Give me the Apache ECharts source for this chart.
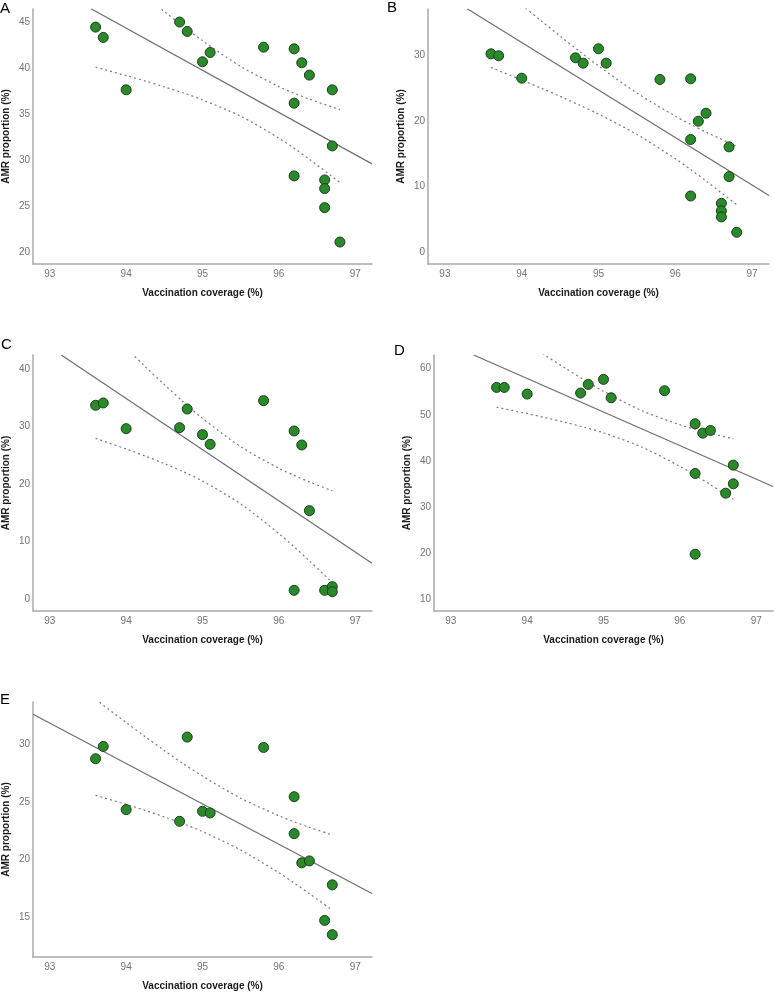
<!DOCTYPE html>
<html><head><meta charset="utf-8">
<script src="https://cdn.jsdelivr.net/npm/echarts@6/dist/echarts.min.js"></script>
<style>html,body{margin:0;padding:0;background:#fff}#c{width:774px;height:992px}</style>
</head><body><div id="c"></div>
<script>
// ---------- data ----------
const xTicks = [93, 94, 95, 96, 97];
const xAll = [93.6, 93.7, 94.0, 94.7, 94.8, 95.0, 95.1, 95.8, 96.2, 96.2, 96.2, 96.3, 96.4, 96.6, 96.6, 96.6, 96.7, 96.7, 96.8];

// Panel A
const xA = xAll;
const yA = [44.49, 43.37, 37.67, 45.04, 44.02, 40.72, 41.73, 42.31, 42.13, 36.22, 28.31, 40.61, 39.27, 27.87, 26.93, 24.86, 37.67, 31.57, 21.12];
const ticksA = [20, 25, 30, 35, 40, 45];
const fitA = [[93.54, 46.49], [97.22, 29.62]];
const ciXA = [93.6, 94.0, 94.25, 94.5, 94.75, 95.0, 95.5, 96.0, 96.2, 96.4, 96.8];
const loA = [40.14, 39.22, 38.63, 37.99, 37.33, 36.58, 34.80, 32.42, 31.32, 30.12, 27.6];
const hiA = [52.3, 49.54, 47.85, 46.19, 44.57, 43.02, 40.22, 38.02, 37.30, 36.66, 35.52];

// Panel B
const xB = xAll;
const yB = [30.25, 29.95, 26.54, 29.64, 28.83, 31.02, 28.83, 26.34, 26.44, 17.19, 8.59, 19.98, 21.20, 7.47, 6.31, 5.39, 16.07, 11.54, 3.05];
const ticksB = [0, 10, 20, 30];
const fitB = [[93.29, 37.12], [97.22, 8.66]];
const ciXB = [93.6, 94.0, 94.25, 94.5, 94.75, 95.0, 95.5, 96.0, 96.2, 96.4, 96.8];
const loB = [28.17, 26.26, 25.03, 23.77, 22.45, 21.07, 17.96, 14.26, 12.61, 10.88, 7.26];
const hiB = [41.59, 37.70, 35.31, 32.95, 30.65, 28.41, 24.28, 20.74, 19.49, 18.32, 16.16];

// Panel C
const xC = [93.6, 93.7, 94.0, 94.7, 94.8, 95.0, 95.1, 95.8, 96.2, 96.3, 96.4, 96.2, 96.6, 96.7, 96.7];
const yC = [33.69, 34.10, 29.64, 29.81, 33.05, 28.60, 26.92, 34.50, 29.23, 26.80, 15.40, 1.56, 1.56, 2.2, 1.33];
const ticksC = [0, 10, 20, 30, 40];
const fitC = [[93.15, 42.43], [97.22, 6.25]];
const ciXC = [93.6, 94.0, 94.25, 94.5, 94.75, 95.0, 95.5, 96.0, 96.2, 96.4, 96.7];
const loC = [27.96, 26.11, 24.88, 23.57, 22.15, 20.54, 16.57, 11.42, 9.11, 6.67, 2.91];
const hiC = [48.9, 43.63, 40.42, 37.29, 34.27, 31.42, 26.51, 22.76, 21.53, 20.39, 18.83];

// Panel D
const xD = [93.6, 93.7, 94.0, 94.7, 94.8, 95.0, 95.1, 95.8, 96.2, 96.3, 96.4, 96.2, 96.6, 96.7, 96.7, 96.2];
const yD = [55.95, 55.95, 54.51, 54.73, 56.60, 57.69, 53.71, 55.23, 48.08, 46.05, 46.63, 37.31, 33.05, 39.12, 35.07, 19.83];
const ticksD = [10, 20, 30, 40, 50, 60];
const fitD = [[93.30, 62.96], [97.22, 34.50]];
const ciXD = [93.6, 94.0, 94.25, 94.5, 94.75, 95.0, 95.5, 96.0, 96.2, 96.4, 96.7];
const loD = [51.65, 50.28, 49.36, 48.39, 47.32, 46.12, 43.04, 38.86, 36.93, 34.90, 31.75];
const hiD = [69.91, 65.48, 62.76, 60.11, 57.54, 55.12, 50.94, 47.86, 46.89, 46.0, 44.81];

// Panel E
const xE = [93.6, 93.7, 94.0, 94.7, 94.8, 95.0, 95.1, 95.8, 96.2, 96.2, 96.3, 96.4, 96.6, 96.7, 96.7];
const yE = [28.76, 29.83, 24.34, 23.32, 30.64, 24.19, 24.05, 29.74, 25.46, 22.25, 19.71, 19.88, 14.71, 17.80, 13.47];
const ticksE = [15, 20, 25, 30];
const fitE = [[92.78, 32.63], [97.22, 17.05]];
const ciXE = [93.6, 94.0, 94.25, 94.5, 94.75, 95.0, 95.5, 96.0, 96.2, 96.4, 96.7];
const loE = [25.58, 24.79, 24.27, 23.71, 23.10, 22.43, 20.83, 18.85, 17.96, 17.04, 15.60];
const hiE = [33.92, 31.91, 30.67, 29.47, 28.32, 27.25, 25.33, 23.81, 23.28, 22.80, 22.14];

const xName = 'Vaccination coverage (%)';
const yName = 'AMR proportion (%)';
const letters = ['A', 'B', 'C', 'D', 'E'];

// ---------- layout / style ----------
const FONT = 'Liberation Sans, Arial, sans-serif';
const panels = [
  {x: xA, y: yA, ticks: ticksA, fit: fitA, ciX: ciXA, lo: loA, hi: hiA, yMin: 18.73, yMax: 46.46,
   grid: {left: 32, top: 9, width: 340, height: 255}, lp: [0, 1]},
  {x: xB, y: yB, ticks: ticksB, fit: fitB, ciX: ciXB, lo: loB, hi: hiB, yMin: -1.78, yMax: 37.08,
   grid: {left: 428, top: 9, width: 341, height: 255}, lp: [387, 0]},
  {x: xC, y: yC, ticks: ticksC, fit: fitC, ciX: ciXC, lo: loC, hi: hiC, yMin: -2.03, yMax: 42.43,
   grid: {left: 32, top: 355, width: 340, height: 256}, lp: [1, 337]},
  {x: xD, y: yD, ticks: ticksD, fit: fitD, ciX: ciXD, lo: loD, hi: hiD, yMin: 7.53, yMax: 62.97,
   grid: {left: 434, top: 355, width: 339, height: 256}, lp: [394, 343]},
  {x: xE, y: yE, ticks: ticksE, fit: fitE, ciX: ciXE, lo: loE, hi: hiE, yMin: 11.53, yMax: 33.69,
   grid: {left: 32, top: 702, width: 340, height: 255}, lp: [0, 692]}
];

const grids = [], xAxes = [], yAxes = [], series = [], graphics = [];
const axisLineStyle = {color: '#a8a8a8', width: 1.5};
const nameStyle = {fontFamily: FONT, fontSize: 10, fontWeight: 'bold', color: '#1a1a1a'};
const labStyle = {fontFamily: FONT, fontSize: 10, color: '#737373'};

panels.forEach((p, i) => {
  grids.push(Object.assign({}, p.grid));
  xAxes.push({
    type: 'value', gridIndex: i, min: 92.78, max: 97.22,
    name: xName, nameLocation: 'middle', nameGap: 24, nameTextStyle: nameStyle,
    axisLine: {show: true, onZero: false, lineStyle: axisLineStyle},
    axisTick: {show: false}, splitLine: {show: false},
    axisLabel: Object.assign({customValues: xTicks, margin: 5}, labStyle)
  });
  yAxes.push({
    type: 'value', gridIndex: i, min: p.yMin, max: p.yMax,
    name: yName, nameLocation: 'middle', nameGap: 22, nameTextStyle: nameStyle,
    axisLine: {show: true, onZero: false, lineStyle: axisLineStyle},
    axisTick: {show: false}, splitLine: {show: false},
    axisLabel: Object.assign({customValues: p.ticks, margin: 3}, labStyle)
  });
  series.push({
    type: 'line', xAxisIndex: i, yAxisIndex: i, data: p.fit, symbol: 'none', clip: true,
    lineStyle: {color: '#6e6e6e', width: 1.2}, silent: true, z: 2
  });
  const lo = p.ciX.map((v, k) => [v, p.lo[k]]);
  const hi = p.ciX.map((v, k) => [v, p.hi[k]]);
  [lo, hi].forEach(d => series.push({
    type: 'line', xAxisIndex: i, yAxisIndex: i, data: d, symbol: 'none', clip: true, smooth: 0.3,
    lineStyle: {color: '#7a7a7a', width: 1.2, type: [2, 3]}, silent: true, z: 2
  }));
  series.push({
    type: 'scatter', xAxisIndex: i, yAxisIndex: i,
    data: p.x.map((v, k) => [v, p.y[k]]),
    symbol: 'circle', symbolSize: 10,
    itemStyle: {color: '#2a8a2a', borderColor: '#1b3f1b', borderWidth: 1, opacity: 1},
    z: 5
  });
  graphics.push({
    type: 'text', left: p.lp[0], top: p.lp[1],
    style: {text: letters[i], font: '15px ' + FONT, fill: '#000'}
  });
});

const chart = echarts.init(document.getElementById('c'), null, {renderer: 'canvas'});
chart.setOption({
  backgroundColor: '#ffffff',
  animation: false,
  grid: grids, xAxis: xAxes, yAxis: yAxes, series: series, graphic: graphics
});
</script></body></html>
